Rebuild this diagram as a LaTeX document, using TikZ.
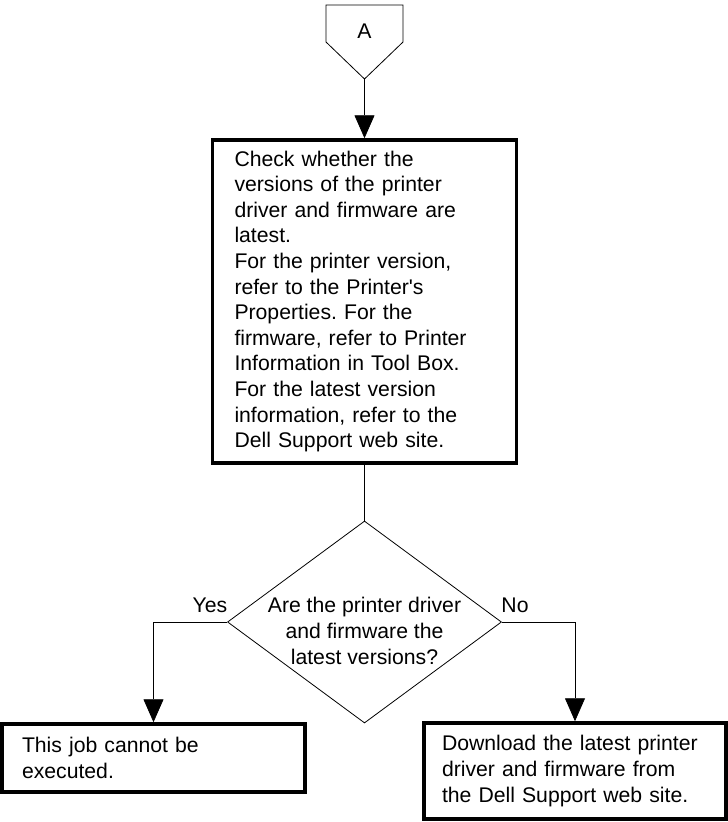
\documentclass[tikz,border=0pt]{standalone}
\usepackage{fontspec}
\setmainfont{Liberation Sans}[Ligatures=TeXOff]
\usetikzlibrary{positioning,arrows.meta,shapes.geometric}
\definecolor{ink}{HTML}{000000}
\newcommand{\flowtext}{\fontsize{21.2}{25.6}\selectfont\frenchspacing}

\begin{document}
\begin{tikzpicture}[x=1pt,y=-1pt,
  every node/.style={font=\flowtext,text=ink},
  procbox/.style={draw=ink,line width=3.5pt,fill=white,align=left,inner xsep=20pt,inner ysep=0pt},
  decision/.style={draw=ink,line width=0.8pt,diamond,inner sep=0pt,minimum width=274pt,minimum height=202pt},
  flow/.style={draw=ink,line width=0.8pt,-{Triangle[width=20pt,length=23pt]}},
  plain/.style={draw=ink,line width=0.8pt}]
\useasboundingbox (0,0) rectangle (728,822);
% off-page connector
\draw[plain] (326,5) -- (403,5) -- (403,42) -- (364.5,79) -- (326,42) -- cycle;
\coordinate (atip) at (364.5,79);
\node[anchor=base] (alabel) at (364.5,38) {A};
% check box
\node[procbox,inner xsep=22pt,text width=260pt,minimum height=323pt] (check) at (364.5,301.5)
  {Check whether the\\ versions of the printer\\ driver and firmware are\\ latest.\\
   For the printer version,\\ refer to the Printer's\\ Properties. For the\\
   firmware, refer to Printer\\ Information in Tool Box.\\ For the latest version\\
   information, refer to the\\ Dell Support web site.};
% decision
\node[decision,label={[align=center,yshift=-9pt]center:Are the printer driver\\ and firmware the\\ latest versions?}] (latest) at (364.5,622) {};
\node[anchor=base] (yes) at (210,612) {Yes};
\node[anchor=base] (no) at (515,612) {No};
% outcomes
\node[procbox,text width=263pt,minimum height=68pt] (nojob) at (153.5,758)
  {This job cannot be\\ executed.};
\node[procbox,inner xsep=18pt,text width=266pt,minimum height=96pt] (download) at (575,771)
  {Download the latest printer\\ driver and firmware from\\ the Dell Support web site.};
% connectors
\draw[flow] (atip) -- (check.north);
\draw[plain] (check.south) -- (latest.north);
\draw[flow] (latest.west) -| (nojob.north);
\draw[flow] (latest.east) -| (download.north);
\end{tikzpicture}
\end{document}
